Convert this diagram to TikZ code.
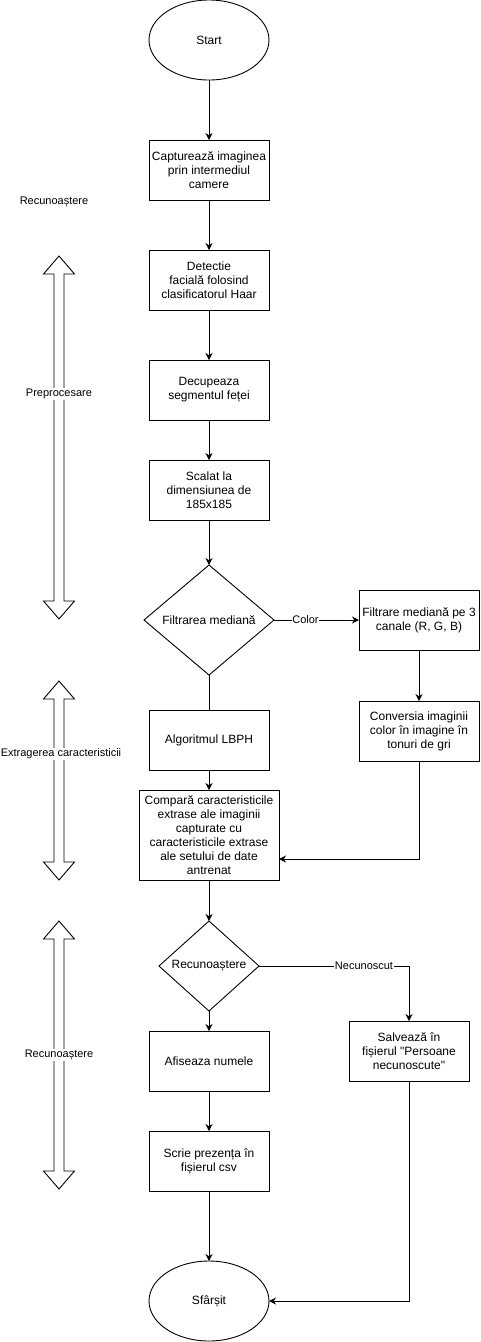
\documentclass[tikz,border=0pt]{standalone}
\usepackage{fontspec}
\setmainfont{Liberation Sans}
\usetikzlibrary{arrows.meta, positioning, shapes.geometric}
\tikzset{
    boxnode/.style={rectangle, draw=black, line width=0.9pt, minimum width=120pt, minimum height=60pt, inner sep=1pt, outer sep=0pt, align=center, font=\fontsize{12}{14}\selectfont},
    endnode/.style={ellipse, draw=black, line width=0.9pt, minimum width=120pt, minimum height=80pt, inner sep=0pt, outer sep=0pt, font=\fontsize{12}{14}\selectfont},
    decisionnode/.style={diamond, draw=black, line width=0.9pt, inner sep=0pt, outer sep=0pt, aspect=1, align=center, font=\fontsize{12}{14}\selectfont},
    flowarrow/.style={-{Stealth[length=7pt,width=7pt]}, line width=0.9pt},
    flowline/.style={line width=0.9pt},
    edgelabel/.style={fill=white, inner sep=0.5pt, font=\fontsize{11}{13}\selectfont},
    phaselabel/.style={fill=white, inner sep=1pt, font=\fontsize{11}{13}\selectfont},
    phasearrow/.style={draw=black, line width=0.9pt, fill=white}
}
% hollow double arrow: x, top tip, bottom tip
\newcommand{\doublearrowat}[3]{%
    \draw[phasearrow] (#1-5,#2+18) -- (#1-15.5,#2+18) -- (#1,#2) -- (#1+15.5,#2+18) -- (#1+5,#2+18)
        -- (#1+5,#3-18) -- (#1+15.5,#3-18) -- (#1,#3) -- (#1-15.5,#3-18) -- (#1-5,#3-18) -- cycle;}

\begin{document}
\begin{tikzpicture}[x=1pt, y=-1pt]

        \useasboundingbox (0,0) rectangle (481,1342);

        % ------------------
        % nodes
        % ------------------

        \node[endnode] (start) at (209,40) {Start};
        \node[boxnode, below=60pt of start] (capture) {Capturează imaginea\\prin intermediul\\camere};
        \node[boxnode, below=50pt of capture] (detect) {Detectie\\facială folosind\\clasificatorul Haar};
        \node[boxnode, below=50pt of detect] (crop) {Decupeaza\\segmentul feței};
        \node[boxnode, below=40pt of crop] (scale) {Scalat la\\dimensiunea de\\185x185};

        \node[decisionnode, minimum width=130pt, minimum height=110pt, below=45pt of scale] (filter) {Filtrarea mediană};
        \node[boxnode, right=85pt of filter] (rgbfilter) {Filtrare mediană pe 3\\canale (R, G, B)};
        \node[boxnode, below=51pt of rgbfilter] (gray) {Conversia imaginii\\color în imagine în\\tonuri de gri};

        \node[boxnode, below=35pt of filter] (lbph) {Algoritmul LBPH};
        \node[boxnode, minimum width=140pt, minimum height=90pt, below=20pt of lbph] (compare) {Compară caracteristicile\\extrase ale imaginii\\capturate cu\\caracteristicile extrase\\ale setului de date\\antrenat};

        \node[decisionnode, minimum width=100pt, minimum height=90pt, below=41pt of compare] (recog) {Recunoaștere};
        \node[boxnode, below=20pt of recog] (display) {Afiseaza numele};
        \node[boxnode, below=40pt of display] (write) {Scrie prezența în\\fișierul csv};
        \node[endnode, below=70pt of write] (stop) {Sfârșit};

        \node[boxnode, right=80pt of display, yshift=10pt] (unknown) {Salvează în\\fișierul \textquotedbl Persoane\\necunoscute\textquotedbl};

        % ------------------
        % phases
        % ------------------

        \node[font=\fontsize{11}{13}\selectfont] (toplabel) at (54,202) {Recunoaștere};

        \doublearrowat{59}{256}{619}
        \doublearrowat{59}{681}{880}
        \doublearrowat{59}{921}{1189}

        \node[phaselabel] (preproc) at (59,394) {Preprocesare};
        \node[phaselabel] (extract) at (61,754) {Extragerea caracteristicii};
        \node[phaselabel] (recphase) at (59,1055) {Recunoaștere};

        % ------------------
        % arrows
        % ------------------

        \draw[flowarrow] (start) -- (capture);
        \draw[flowarrow] (capture) -- (detect);
        \draw[flowarrow] (detect) -- (crop);
        \draw[flowarrow] (crop) -- (scale);
        \draw[flowarrow] (scale) -- (filter);

        \draw[flowarrow] (filter.east) -- node[edgelabel, pos=0.37]{Color} (rgbfilter.west);
        \draw[flowarrow] (rgbfilter) -- (gray);
        \draw[flowarrow] (gray.south) |- ([yshift=-24pt]compare.east);

        \draw[flowline] (filter.south) -- (lbph.north);
        \draw[flowarrow] (lbph) -- (compare);
        \draw[flowarrow] (compare) -- (recog);

        \draw[flowarrow] (recog.east) -| node[edgelabel, pos=0.35]{Necunoscut} (unknown.north);
        \draw[flowarrow] (recog) -- (display);
        \draw[flowarrow] (display) -- (write);
        \draw[flowarrow] (write) -- (stop);
        \draw[flowarrow] (unknown.south) |- (stop.east);

\end{tikzpicture}
\end{document}
